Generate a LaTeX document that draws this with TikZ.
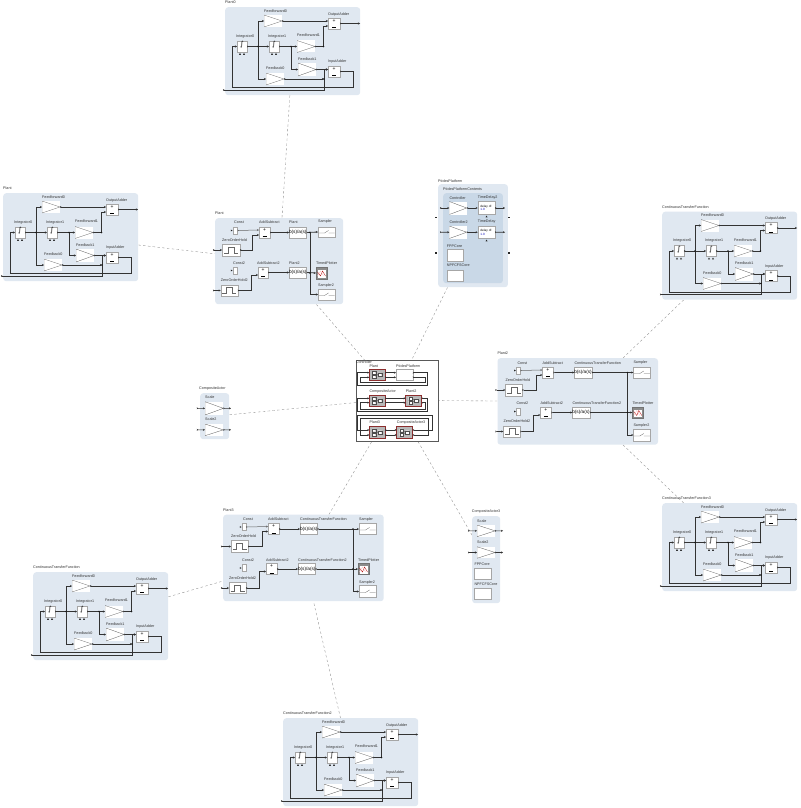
\documentclass[tikz,border=0pt]{standalone}
\usepackage{fontspec}
\setmainfont{Liberation Sans}
\newfontfamily\symf{DejaVu Sans}
\usetikzlibrary{arrows.meta,calc}
\pgfdeclarelayer{back}
\pgfsetlayers{back,main}
\definecolor{panelc}{HTML}{E0E8F1}
\definecolor{innerc}{HTML}{C9D8E7}
\definecolor{frame}{HTML}{A6A6A6}
\definecolor{redb}{HTML}{8C2E2E}
\tikzset{
  panel/.style={fill=panelc,draw=none,rounded corners=3pt,inner sep=0pt},
  innerpanel/.style={fill=innerc,draw=none,rounded corners=3pt,inner sep=0pt},
  base/.style={inner sep=0pt,outer sep=0pt,fill=white},
  box/.style={base,draw=frame,line width=.4pt},
  lbl/.style={anchor=west,inner sep=0pt,text=black!80,font=\fontsize{3.7}{4}\selectfont},
  tribox/.style={base,path picture={\draw[black!65,line width=.3pt]
      (path picture bounding box.north west)--(path picture bounding box.east)--(path picture bounding box.south west)--cycle;}},
  adder/.style={box,align=center,font=\fontsize{5}{4.4}\selectfont},
  integ/.style={box,font=\fontsize{7}{7}\selectfont\symf},
  tf/.style={box,font=\fontsize{4.7}{5}\selectfont},
  delaybox/.style={box,align=left,font=\fontsize{3.1}{4}\selectfont},
  zoh/.style={box,path picture={\begin{scope}[shift={(path picture bounding box.center)}]
      \draw[black!60,line width=.3pt] (-7,3)--(-3,3)--(-3,-3)--(3,-3)--(3,3)--(7,3);\end{scope}}},
  samp/.style={box,path picture={\begin{scope}[shift={(path picture bounding box.center)}]
      \draw[black!60,line width=.3pt] (-8,1)--(-2,1)--(2,-1.5) (2,1)--(8,1);\end{scope}}},
  plotter/.style={base,fill=black!45,draw=black!55,line width=.3pt,path picture={\begin{scope}[shift={(path picture bounding box.center)}]
      \fill[white] (-4,-3) rectangle (4,4.5);
      \draw[red!70!black,line width=.3pt] (-4,-1)--(-1,3)--(1,-2)--(4,3);
      \draw[pink,line width=.3pt] (-4,3)--(-1,-2)--(2,3);\end{scope}}},
  actor/.style={base,fill=black!28,draw=redb,line width=.9pt,path picture={\begin{scope}[shift={(path picture bounding box.center)}]
      \draw[black!70,line width=.2pt,fill=white] (-5,-3.5) rectangle (-1.5,-.7) (-5,.7) rectangle (-1.5,3.5) (.8,-1.7) rectangle (4.5,1.7);
      \draw[black!70,line width=.2pt] (-1.5,-2)--(.8,0)--(-1.5,2) (4.5,0)--(6,0);\end{scope}}},
  wire/.style={draw=black!80,line width=.5pt,arrows={{Stealth[length=1.6pt,width=1.8pt,reversed]}-{Stealth[length=2pt,width=2pt]}}},
  wirej/.style={draw=black!80,line width=.5pt,arrows={-{Stealth[length=2pt,width=2pt]}}},
  wirefat/.style={wire,line width=.8pt},
  portdot/.style={fill=black!85,inner sep=0pt,minimum width=1.8pt,minimum height=1.4pt},
  dashlink/.style={draw=black!45,line width=.35pt,dash pattern=on 2.4pt off 2.4pt},
}
\newcommand\blk[7]{\node[#1,minimum width=#5pt,minimum height=#6pt,anchor=north west] (#2) at (#3,#4) {#7};}
\newcommand\lab[4]{\node[lbl] (#1) at (#2,#3) {#4};}
\newcommand\jdot[1]{\fill[black!90] (#1) circle (.8pt);}
\newcommand\utri[2]{\fill[black!85] (#1-1,#2+1.8)--(#1+1,#2+1.8)--(#1,#2)--cycle;}
\newcommand\rtri[2]{\fill[black!85] (#1-1.6,#2-.9)--(#1-1.6,#2+.9)--(#1,#2)--cycle;}
\newcommand\addsym{+\\[.6pt]\rule{4pt}{.35pt}}
\newcommand\tfsym{b(s)/a(s)}
\newcommand\intsym{\smash{∫}}
% ---------------- integrator / feedback panel
\newcommand\plantA[4]{%
\begin{scope}[shift={(#2,#3)}]
  \blk{panel}{#1bg}{0}{0}{135}{88}{}
  \lab{#1tt}{0}{-4.5}{#4}
  \blk{tribox}{#1FF0}{39}{8}{18}{12}{} \lab{#1FF0t}{39}{4}{Feedforward0}
  \blk{tribox}{#1FF1}{72}{33.5}{18}{12}{} \lab{#1FF1t}{72}{28.5}{Feedforward1}
  \blk{tribox}{#1FB1}{73}{56}{18}{13}{} \lab{#1FB1t}{73}{52}{Feedback1}
  \blk{tribox}{#1FB0}{41}{66}{18}{12}{} \lab{#1FB0t}{41}{61.5}{Feedback0}
  \blk{integ}{#1I0}{12}{34}{10}{11}{\intsym} \lab{#1I0t}{11}{29.5}{Integrator0}
  \blk{integ}{#1I1}{44}{34}{10}{11}{\intsym} \lab{#1I1t}{43}{29.5}{Integrator1}
  \blk{adder}{#1OA}{103}{11}{12}{11}{\addsym} \lab{#1OAt}{103}{7.5}{OutputAdder}
  \blk{adder}{#1IA}{103}{59}{12}{11}{\addsym} \lab{#1IAt}{103}{55}{InputAdder}
  \utri{15}{46}\utri{19}{46}\utri{47}{46}\utri{51}{46}
  \coordinate (#1in) at (-2,83);
  \coordinate (#1out) at (135,16.5);
  \coordinate (#1j0) at (33,39.5);
  \coordinate (#1j1) at (66,39.5);
  \coordinate (#1OAp) at (103,14);
  \coordinate (#1OAq) at (103,19);
  \coordinate (#1IAp) at (103,62.5);
  \coordinate (#1a) at (98.5,39.5);
  \coordinate (#1b) at (99,72);
  \coordinate (#1c) at (99,83);
  \coordinate (#1r2) at (128,80.5);
  \coordinate (#1r3) at (7,80.5);
  \draw[wirefat] (#1I0.east)--(#1I1.west);
  \draw[wirej] (#1j0)|-(#1FF0.west);
  \draw[wirej] (#1j0)|-(#1FB0.west);
  \draw[wire] (#1I1.east)--(#1FF1.west);
  \draw[wirej] (#1j1)|-(#1FB1.west);
  \draw[wire] (#1FF0.east)--(#1OAp);
  \draw[wire] (#1FF1.east)--(#1a)|-(#1OAq);
  \draw[wire] (#1FB1.east)--(#1IAp);
  \draw[wire] (#1FB0.east)--(#1b);
  \draw[wire] (#1in)--(#1c)|-(#1IAp);
  \draw[wire] (#1OA.east)--(#1out);
  \draw[wire] (#1IA.east)-|(#1r2)--(#1r3)|-(#1I0.west);
  \jdot{#1j0}\jdot{#1j1}\jdot{#1b}\jdot{#1a}
\end{scope}}
% ---------------- wide plant panel
\newcommand\plantB[3]{%
\begin{scope}[shift={(#2,#3)}]
  \blk{panel}{#1bg}{0}{0}{160.5}{86.5}{}
  \blk{box}{#1C1}{19}{9}{4}{7}{} \lab{#1C1t}{20}{5}{Const}
  \blk{zoh}{#1Z1}{8}{26}{17}{12}{} \lab{#1Z1t}{8}{22}{ZeroOrderHold}
  \blk{adder}{#1A1}{45}{9}{11}{11}{\addsym} \lab{#1A1t}{45}{5}{AddSubtract}
  \blk{tf}{#1T1}{77}{9}{17}{11}{\tfsym} \lab{#1T1t}{77}{5}{ContinuousTransferFunction}
  \blk{samp}{#1S1}{136}{9}{17}{11}{} \lab{#1S1t}{136}{5}{Sampler}
  \blk{box}{#1C2}{19}{50}{4}{7}{} \lab{#1C2t}{19}{45.5}{Const2}
  \blk{zoh}{#1Z2}{6}{68}{17}{11}{} \lab{#1Z2t}{6}{63.5}{ZeroOrderHold2}
  \blk{adder}{#1A2}{43}{49}{11}{11}{\addsym} \lab{#1A2t}{43}{45.5}{AddSubtract2}
  \blk{tf}{#1T2}{75}{49}{17}{11}{\tfsym} \lab{#1T2t}{75}{45.5}{ContinuousTransferFunction2}
  \blk{plotter}{#1P}{135}{49}{11}{11}{} \lab{#1Pt}{135}{45.5}{TimedPlotter}
  \blk{samp}{#1S2}{136}{71}{17}{12}{} \lab{#1S2t}{136}{68}{Sampler2}
  \rtri{18.5}{12.5}\rtri{18.5}{53.5}
  \coordinate (#1i1) at (-2,32);
  \coordinate (#1i2) at (-2,73.5);
  \coordinate (#1p1) at (45,12);
  \coordinate (#1q1) at (45,17);
  \coordinate (#1q2) at (43,57);
  \coordinate (#1p2) at (43,52);
  \coordinate (#1v1) at (39,32);
  \coordinate (#1v2) at (36,73.5);
  \coordinate (#1j) at (130,14.5);
  \coordinate (#1j2) at (130,54.5);
  \draw[wire,black!60] (#1C1.east)--(#1p1);
  \draw[wire] (#1i1)--(#1Z1.west);
  \draw[wire] (#1i2)--(#1Z2.west);
  \draw[wire] (#1Z1.east)--(#1v1)|-(#1q1);
  \draw[wire] (#1Z2.east)--(#1v2)|-(#1q2);
  \draw[wire] (#1A1.east)--(#1T1.west);
  \draw[wire] (#1A2.east)--(#1T2.west);
  \draw[wirefat] (#1T1.east)--(#1S1.west);
  \draw[wirefat] (#1T2.east)--(#1P.west);
  \draw[wirej] (#1j)|-(#1S2.west);
  \jdot{#1j}\jdot{#1j2}
\end{scope}}
% ---------------- controller rows
\newcommand\ctrlrow[8]{%
  \coordinate (#1x) at (357.7,#5);
  \coordinate (#1y) at (360.7,#6);
  \coordinate (#1u) at (#7,#5);
  \coordinate (#1v) at (#8,#6);
  \draw[wire] (#1.east |- 0,#3)--(#2.west |- 0,#3);
  \draw[wire] (#1.east |- 0,#4)--(#2.west |- 0,#4);
  \draw[wire] (#2.east |- 0,#3)-|(#1u)--(#1x)|-(#1.west |- 0,#3);
  \draw[wire] (#2.east |- 0,#4)-|(#1v)--(#1y)|-(#1.west |- 0,#4);
}
\begin{document}
\begin{tikzpicture}[x=1pt,y=-1pt]
\useasboundingbox (0,0) rectangle (800,808);
% panels with integrators
\plantA{Pz}{225}{7}{Plant0}
\plantA{Pl}{3}{193}{Plant}
\plantA{Cr}{662}{211.5}{ContinuousTransferFunction}
\plantA{Cs}{662}{503}{ContinuousTransferFunction3}
\plantA{Cl}{33}{572}{ContinuousTransferFunction}
\plantA{Cb}{283}{718}{ContinuousTransferFunction2}
% wide plants
\plantB{Pb}{497.3}{358}{}
\lab{Pbtt}{497.3}{353.5}{Plant2}
\plantB{Pc}{223}{514.5}{}
\lab{Pctt}{223}{510.5}{Plant3}
% centre plant
\begin{scope}[shift={(215,218)}]
  \blk{panel}{Mbg}{0}{0}{128}{86}{}
  \lab{Mtt}{0}{-4.5}{Plant}
  \blk{box}{MC1}{18}{9}{4.5}{7}{} \lab{MC1t}{19}{4}{Const}
  \blk{zoh}{MZ1}{7}{26}{18}{12}{} \lab{MZ1t}{7}{22}{ZeroOrderHold}
  \blk{adder}{MA1}{44}{9}{11}{11}{\addsym} \lab{MA1t}{44}{4}{AddSubtract}
  \blk{tf}{MT1}{74}{9}{17}{11}{\tfsym} \lab{MT1t}{74}{4}{Plant}
  \blk{samp}{MS1}{103}{9}{17}{10}{} \lab{MS1t}{103}{4}{Sampler}
  \blk{box}{MC2}{18}{49}{4.5}{7}{} \lab{MC2t}{18}{45}{Const2}
  \blk{zoh}{MZ2}{5.7}{67}{17}{11}{} \lab{MZ2t}{5.7}{62.5}{ZeroOrderHold2}
  \blk{adder}{MA2}{43}{49}{10}{11}{\addsym} \lab{MA2t}{42}{45}{AddSubtract2}
  \blk{tf}{MT2}{74}{49}{17}{11}{\tfsym} \lab{MT2t}{74}{45}{Plant2}
  \blk{plotter}{MP}{101}{49}{11}{12}{} \lab{MPt}{101}{45}{TimedPlotter}
  \blk{samp}{MS2}{103}{71}{17}{11}{} \lab{MS2t}{103}{67.5}{Sampler2}
  \rtri{17.5}{12.5}\rtri{17.5}{52.5}
  \coordinate (Mi1) at (-2,32);
  \coordinate (Mi2) at (-2,72.5);
  \coordinate (Mp1) at (44,12);
  \coordinate (Mq1) at (44,17);
  \coordinate (Mq2) at (43,57);
  \coordinate (Mv1) at (37,32);
  \coordinate (Mv2) at (36,72.5);
  \coordinate (Mj) at (95,14.5);
  \coordinate (Mj2) at (95,55);
  \draw[wire,black!60] (MC1.east)--(Mp1);
  \draw[wire] (Mi1)--(MZ1.west);
  \draw[wire] (Mi2)--(MZ2.west);
  \draw[wire] (MZ1.east)--(Mv1)|-(Mq1);
  \draw[wire] (MZ2.east)--(Mv2)|-(Mq2);
  \draw[wire] (MA1.east)--(MT1.west);
  \draw[wire] (MA2.east)--(MT2.west);
  \draw[wirefat] (MT1.east)--(MS1.west);
  \draw[wirefat] (MT2.east)--(MP.west);
  \draw[wirej] (Mj)|-(MS2.west);
  \jdot{Mj}\jdot{Mj2}
\end{scope}
% Ptides platform
\blk{panel}{Zbg}{438}{184}{69.7}{103}{}
\lab{Ztt}{438}{180.7}{PtidesPlatform}
\blk{innerpanel}{Zin}{443}{193}{59.7}{90}{}
\lab{Zint}{443}{189}{PtidesPlatformContents}
\blk{tribox}{Zc1}{449.3}{201.5}{17.4}{13}{} \lab{Zc1t}{449.3}{198}{Controller}
\blk{delaybox}{Zd2}{477.7}{201.5}{17.3}{13}{delay of:\\[-.5pt]\textcolor{blue!75!black}{1.0}} \lab{Zd2t}{477.7}{198}{TimeDelay2}
\blk{tribox}{Zc2}{449.3}{226}{17.4}{12.5}{} \lab{Zc2t}{449.3}{222}{Controller2}
\blk{delaybox}{Zd1}{477.7}{226}{17.3}{12.5}{delay of:\\[-.5pt]\textcolor{blue!75!black}{1.0}} \lab{Zd1t}{477.7}{222}{TimeDelay}
\blk{box}{Zf}{446.7}{249}{16.6}{11.7}{} \lab{Zft}{446.7}{246}{FPPCore}
\blk{box}{Zn}{446.7}{269.7}{16.6}{11}{} \lab{Znt}{446.7}{265.7}{NPFCFSCore}
\utri{486.5}{215.6}\utri{486.5}{239.6}
\node[portdot] (Zl1) at (436,217.3) {};
\node[portdot] (Zl2) at (436,253) {};
\node[portdot] (Zr1) at (509,217.3) {};
\node[portdot] (Zr2) at (509,253) {};
\coordinate (Za1) at (440,208);
\coordinate (Za2) at (440,232.2);
\coordinate (Zb1) at (505,208);
\coordinate (Zb2) at (505,232.2);
\draw[wirefat] (Za1)--(Zc1.west);
\draw[wirefat] (Za2)--(Zc2.west);
\draw[wirefat] (Zc1.east)--(Zd2.west);
\draw[wirefat] (Zc2.east)--(Zd1.west);
\draw[wirefat] (Zd2.east)--(Zb1);
\draw[wirefat] (Zd1.east)--(Zb2);
% CompositeActor
\blk{panel}{Abg}{200}{393}{29}{46}{}
\lab{Att}{199}{388.3}{CompositeActor}
\blk{tribox}{As1}{205}{401.7}{18.3}{13.3}{} \lab{As1t}{205}{397.3}{Scale}
\blk{tribox}{As2}{205}{424}{18.3}{11.7}{} \lab{As2t}{205}{419.3}{Scale2}
\coordinate (Aa1) at (196.7,408.3);
\coordinate (Aa2) at (196.7,429.8);
\coordinate (Ab1) at (231,408.3);
\coordinate (Ab2) at (231,429.8);
\draw[wire] (Aa1)--(As1.west);
\draw[wire] (Aa2)--(As2.west);
\draw[wire] (As1.east)--(Ab1);
\draw[wire] (As2.east)--(Ab2);
% CompositeActor3
\blk{panel}{Bbg}{472}{516}{28}{87}{}
\lab{Btt}{471.7}{511.7}{CompositeActor3}
\blk{tribox}{Bs1}{477}{525}{18}{11.7}{} \lab{Bs1t}{477}{521}{Scale}
\blk{tribox}{Bs2}{477}{546.7}{18}{11.6}{} \lab{Bs2t}{477}{542.3}{Scale2}
\blk{box}{Bf}{474.3}{567.7}{16.7}{11.3}{} \lab{Bft}{474.3}{564}{FPPCore}
\blk{box}{Bn}{474.3}{587.7}{16.7}{11.3}{} \lab{Bnt}{474.3}{584}{NPFCFSCore}
\coordinate (Ba1) at (468,530.8);
\coordinate (Ba2) at (468,552.5);
\coordinate (Bb1) at (503,530.8);
\coordinate (Bb2) at (503,552.5);
\draw[wire] (Ba1)--(Bs1.west);
\draw[wire] (Ba2)--(Bs2.west);
\draw[wire] (Bs1.east)--(Bb1);
\draw[wire] (Bs2.east)--(Bb2);
% Controller
\node[base,draw=black!65,line width=.4pt,minimum width=82pt,minimum height=80.7pt,anchor=north west] (Ct) at (355.7,360) {};
\lab{Ctt}{355.7}{362.3}{Controller}
\blk{actor}{cPlant}{369.3}{369}{15.7}{11.3}{} \lab{cPlantt}{369.3}{365.9}{Plant}
\blk{box}{cPtides}{396}{369.3}{16.7}{11}{} \lab{cPtidest}{396}{365.7}{PtidesPlatform}
\blk{actor}{cCA}{369.3}{395}{15.7}{11}{} \lab{cCAt}{369.3}{391.3}{CompositeActor}
\blk{actor}{cPtwo}{405.7}{395}{16}{11}{} \lab{cPtwot}{405.7}{391.3}{Plant2}
\blk{actor}{cPthree}{369.3}{426.7}{15.7}{11.3}{} \lab{cPthreet}{369.3}{422.3}{Plant3}
\blk{actor}{cCAthree}{396.7}{426.7}{16}{11.3}{} \lab{cCAthreet}{396.7}{422.3}{CompositeActor3}
\ctrlrow{cPlant}{cPtides}{372.7}{377.3}{385}{382.7}{427.7}{425}
\ctrlrow{cCA}{cPtwo}{398.3}{402.7}{411.7}{409.3}{427.3}{425}
\ctrlrow{cPthree}{cCAthree}{430}{435}{415.7}{418.3}{432.3}{428.3}
% dashed links
\begin{pgfonlayer}{back}
  \fill[white] (0,0) rectangle (800,808);
  \draw[dashlink] (Pzbg)--(Mbg);
  \draw[dashlink] (Plbg)--(Mbg);
  \draw[dashlink] (Mbg)--(cPlant);
  \draw[dashlink] (Zbg)--(cPtides);
  \draw[dashlink] (Abg)--(cCA);
  \draw[dashlink] (Pbbg)--(cPtwo);
  \draw[dashlink] (Pcbg)--(cPthree);
  \draw[dashlink] (Bbg)--(cCAthree.east);
  \draw[dashlink] (Crbg)--(Pbbg);
  \draw[dashlink] (Csbg)--(Pbbg);
  \draw[dashlink] (Clbg)--(Pcbg);
  \draw[dashlink] (Cbbg)--(Pcbg);
\end{pgfonlayer}
\end{tikzpicture}
\end{document}
